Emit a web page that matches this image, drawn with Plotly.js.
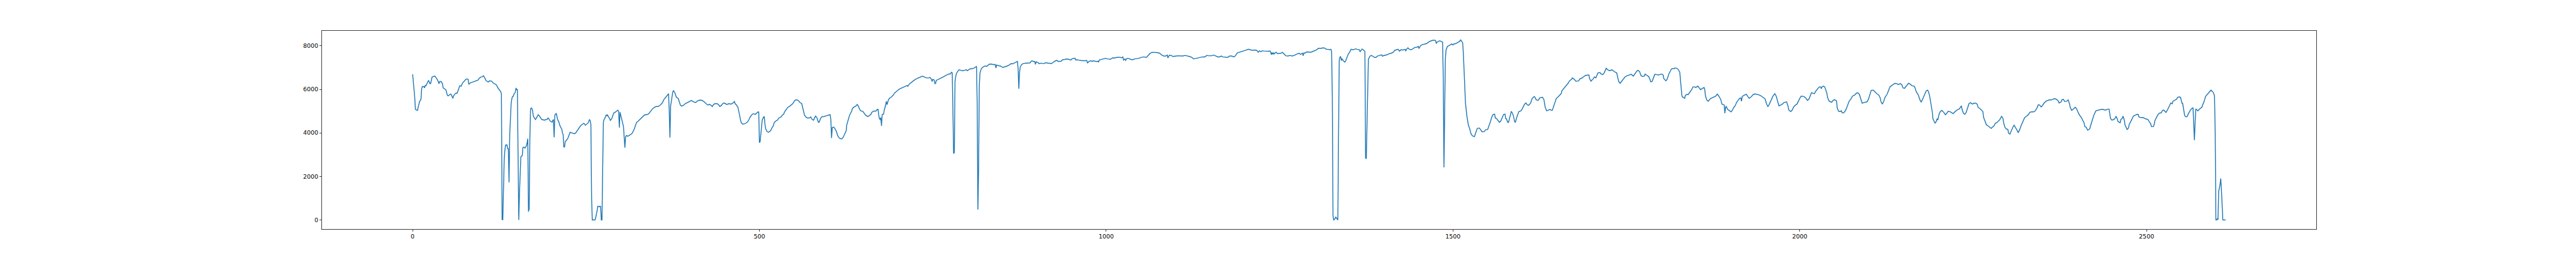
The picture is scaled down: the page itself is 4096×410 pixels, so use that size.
<!DOCTYPE html>
<html>
<head>
<meta charset="utf-8">
<script src="https://cdn.plot.ly/plotly-3.0.1.min.js"></script>
<style>html,body{margin:0;padding:0;background:#fff;}#chart{width:4096px;height:410px;}</style>
</head>
<body>
<div id="chart"></div>
<script>
// [index, value] vertices, by region of the x axis
const segA = [[0,6690],[2,6100],[3,5640],[4,5080],[7,5030],[8,5180],[10,5440],[12,5540],[13,6030],[14,6130],[16,6130],[17,6065],[18,6175],[19,6160],[22,6360],[23,6415],[25,6260],[26,6270],[28,6570],[30,6590],[32,6610],[34,6525],[36,6425],[38,6260],[39,6360],[41,6360],[43,6260],[44,6065],[46,6030],[48,5967],[50,5737],[51,5704],[53,5737],[55,5783],[56,5737],[58,5586],[59,5700],[62,5822],[64,5822],[66,6030],[68,6165],[70,6150],[72,6295],[74,6360],[76,6440],[78,6480],[80,6460],[81,6230],[83,6295],[86,6330],[89,6360],[91,6395],[94,6425],[96,6506],[98,6560],[100,6573],[102,6625],[104,6525],[106,6395],[109,6340],[111,6395],[114,6375],[116,6295],[119,6245],[121,6200],[123,6065],[125,5980],[127,5900],[128,5783],[129,15],[130,15],[131,1365],[132,2780],[133,3205],[134,3435],[136,3450],[137,3270],[138,3270],[139,1726],[140,3930],[141,4981],[142,5342],[143,5572],[144,5670],[145,5680],[146,5783],[148,5868],[149,6065],[150,5986],[151,5990],[152,3000],[153,0],[154,1200],[155,2300],[156,2900],[157,2930],[158,2950],[159,3337],[161,3340],[162,3300],[164,3403],[165,3535],[166,3732],[167,380],[168,510],[169,3700],[170,5100],[171,5146],[172,5120],[173,5000],[174,4770],[175,4720],[177,4612],[178,4660],[181,4836],[182,4800],[183,4770],[186,4619],[188,4600],[190,4586],[192,4612],[194,4619],[195,4685],[196,4670],[198,4553],[200,4507],[201,4490],[202,4570],[203,4612],[204,3797],[205,4816],[207,4902],[208,4751],[209,4619],[211,4487],[212,4356],[214,4224],[215,4180],[216,3995],[217,3930],[218,3350],[219,3350],[220,3600],[222,3666],[224,3765],[226,3929],[227,4027],[230,3995],[233,3962],[235,3995],[238,4139],[240,4224],[242,4323],[245,4402],[247,4442],[249,4350],[251,4400],[253,4455],[255,4619]];
const segB = [[256,4553],[257,4389],[258,1036],[259,0],[263,0],[264,115],[265,345],[266,430],[267,630],[269,600],[270,625],[271,620],[272,0],[273,0],[274,2350],[275,4487],[276,4619],[277,4660],[279,4816],[280,4790],[281,4840],[282,4751],[284,4660],[285,4566],[287,4650],[290,4915],[292,4950],[294,4994],[296,5047],[297,4990],[298,4244],[299,4948],[300,4796],[301,4717],[302,4550],[303,4389],[304,4290],[305,3797],[306,3323],[307,3810],[308,3876],[309,3876],[310,3843],[312,3876],[314,3929],[316,3960],[318,4073],[320,4205],[321,4323],[323,4487],[325,4534],[328,4619],[331,4717],[334,4816],[336,4836],[339,4849],[341,4902],[343,4994],[346,5113],[349,5178],[351,5211],[354,5211],[357,5277],[360,5376],[362,5520],[365,5638],[367,5737],[368,5770],[369,5803],[370,4980],[371,3784],[372,5244],[374,5704],[375,5868],[376,5947],[377,5900],[378,5849],[380,5652],[383,5573],[385,5376],[386,5277],[388,5231],[391,5277],[393,5342],[396,5389],[399,5441],[402,5494],[404,5441],[408,5395],[411,5474],[414,5507],[417,5494],[420,5441],[423,5342],[426,5277],[428,5309],[430,5277],[432,5211],[434,5309],[436,5342],[439,5342],[441,5296],[443,5211],[445,5257],[447,5342],[449,5376],[451,5342],[453,5309],[456,5342],[459,5323],[462,5376],[464,5441],[465,5342],[467,5277],[469,5178],[470,5047],[472,4718],[473,4553],[474,4454],[476,4402],[479,4421],[481,4460],[483,4507],[485,4619],[487,4751],[490,4862],[492,4882],[494,4850],[496,4915],[498,4967],[499,4960],[500,3550],[501,3600],[503,4191],[504,4586],[506,4731],[507,4740],[508,4389],[509,4191],[511,4060],[513,4027],[515,4073],[516,4093],[518,4224]];
const segC = [[520,4323],[521,4454],[523,4534],[526,4586],[528,4685],[531,4731],[533,4816],[535,4862],[536,4948],[538,5047],[541,5178],[543,5211],[546,5277],[548,5342],[551,5494],[553,5520],[556,5494],[558,5408],[561,5342],[563,5113],[565,4816],[567,4731],[569,4685],[572,4685],[574,4731],[576,4619],[578,4586],[580,4718],[581,4784],[583,4685],[585,4487],[586,4487],[588,4652],[590,4744],[593,4751],[596,4784],[599,4816],[602,4836],[603,4586],[604,3765],[605,4244],[607,4270],[609,4191],[611,4060],[613,3863],[615,3765],[617,3732],[619,3732],[621,3810],[623,3929],[625,4093],[626,4376],[628,4586],[630,4816],[633,4994],[634,5113],[636,5178],[639,5231],[641,5309],[643,5211],[644,5113],[646,5014],[649,4994],[651,4902],[653,4816],[656,4751],[658,4784],[661,4862],[662,4948],[665,5001],[668,5001],[670,5080],[671,5080],[672,4816],[673,4652],[674,4619],[675,4704],[676,4323],[677,4849],[679,4862],[680,5047],[682,5277],[683,5454],[684,5296],[686,5520],[688,5606],[690,5638],[693,5737],[695,5836],[698,5915],[701,6000],[704,6046],[707,6098],[710,6131],[713,6177],[714,6140],[716,6243],[719,6328],[722,6394],[726,6480],[730,6546],[735,6605],[738,6570],[741,6525],[744,6525],[746,6545],[748,6460],[749,6360],[750,6460],[752,6430],[753,6262],[754,6270],[755,6414],[757,6440],[760,6480],[763,6539],[766,6592],[768,6625],[771,6657],[773,6710],[775,6705],[776,6770],[777,6789],[778,6757],[779,4000],[780,3050],[781,3100],[782,6360],[783,6592],[784,6723],[786,6835],[788,6901],[790,6880],[793,6855],[796,6880],[798,6901],[800,6855],[803,6934],[807,6953],[810,6986],[812,7032],[813,7065],[814,5300],[815,477],[816,2350],[817,6164],[818,6756],[820,6953],[822,7019],[825,7071],[828,7065],[831,7150],[834,7163],[838,7137],[840,7150],[841,6980],[842,7117],[845,7100],[848,7065],[851,7006],[854,7032],[857,7071],[860,7117],[863,7183],[865,7170],[868,7229],[872,7282],[873,6953],[874,6032],[875,6756],[876,7019],[878,7137],[880,7183],[883,7203],[886,7203],[890,7216],[892,7295],[893,7315],[895,7282],[897,7282],[898,7150],[899,7269],[902,7230],[903,7183],[906,7203],[910,7183],[913,7229],[916,7203],[919,7203],[921,7183],[923,7229],[925,7282],[927,7315],[929,7328],[931,7282],[935,7295],[937,7361],[940,7374],[943,7394],[946,7381],[949,7348],[951,7413],[953,7427],[955,7433],[956,7348],[958,7361],[960,7348],[963,7328],[966,7315],[970,7315],[972,7328],[973,7203],[975,7282],[978,7315],[980,7282],[981,7315],[984,7282],[986,7282],[988,7295],[989,7250],[990,7348],[993,7381],[996,7400],[999,7427],[1002,7400],[1006,7381],[1009,7446],[1012,7440],[1015,7466],[1018,7466],[1020,7479],[1022,7446],[1024,7492],[1025,7348],[1027,7400],[1028,7335],[1030,7427],[1033,7413],[1035,7381],[1038,7361],[1041,7400],[1044,7413]];
const segD = [[1047,7427],[1050,7466],[1054,7492],[1058,7466],[1060,7532],[1063,7644],[1066,7703],[1070,7703],[1073,7690],[1077,7663],[1080,7578],[1083,7532],[1086,7532],[1088,7578],[1089,7446],[1091,7571],[1094,7558],[1096,7512],[1098,7512],[1101,7532],[1104,7545],[1107,7532],[1110,7532],[1114,7558],[1117,7545],[1120,7512],[1123,7479],[1126,7400],[1130,7427],[1134,7466],[1139,7492],[1142,7492],[1145,7558],[1148,7545],[1152,7545],[1155,7578],[1158,7532],[1161,7492],[1163,7492],[1166,7532],[1168,7492],[1171,7479],[1175,7466],[1178,7532],[1181,7532],[1184,7492],[1186,7532],[1189,7677],[1192,7703],[1195,7742],[1198,7775],[1201,7795],[1205,7841],[1208,7822],[1211,7795],[1214,7808],[1217,7795],[1219,7709],[1221,7775],[1223,7729],[1225,7775],[1228,7762],[1231,7749],[1234,7749],[1236,7762],[1237,7735],[1238,7598],[1239,7690],[1240,7611],[1241,7690],[1242,7624],[1245,7709],[1247,7644],[1250,7663],[1252,7663],[1254,7703],[1256,7644],[1259,7545],[1262,7532],[1265,7558],[1268,7532],[1271,7558],[1274,7611],[1278,7663],[1280,7611],[1283,7663],[1284,7545],[1285,7677],[1287,7663],[1288,7709],[1290,7722],[1293,7709],[1295,7709],[1298,7742],[1300,7762],[1303,7808],[1305,7861],[1306,7887]];
const segE = [[1310,7887],[1313,7907],[1316,7887],[1317,7841],[1320,7841],[1322,7822],[1324,7841],[1325,7742],[1326,5638],[1327,181],[1328,0],[1329,16],[1331,128],[1332,80],[1333,16],[1334,0],[1335,4000],[1336,7348],[1337,7479],[1338,7512],[1339,7328],[1340,7400],[1342,7315],[1344,7249],[1345,7282],[1347,7446],[1349,7624],[1351,7709],[1353,7841],[1356,7822],[1358,7841],[1360,7861],[1362,7841],[1365,7822],[1366,7729],[1368,7841],[1369,7855],[1371,7808],[1372,7755],[1373,7742],[1374,2844],[1375,2811],[1376,4323],[1377,6559],[1378,7381],[1380,7512],[1382,7558],[1384,7532],[1387,7466],[1389,7466],[1391,7532],[1394,7558],[1397,7591],[1398,7532],[1400,7558],[1403,7578],[1405,7591],[1407,7624],[1411,7663],[1414,7709],[1416,7795],[1418,7822],[1421,7841],[1423,7755],[1425,7822],[1428,7808],[1431,7841],[1432,7755],[1433,7841],[1435,7907],[1437,7841],[1440,7822],[1443,7887],[1445,7926],[1448,7939],[1450,7972],[1451,7874],[1453,8005],[1456,8058],[1459,8071],[1462,8104],[1464,8150],[1466,8202],[1469,8235],[1471,8255],[1474,8255],[1475,8235],[1476,8104],[1477,8170],[1479,8202],[1481,8235],[1483,8202],[1485,8170],[1486,6500],[1487,2416],[1488,4981],[1489,7413],[1490,7808],[1492,7972],[1494,8005],[1496,8058],[1498,8084],[1500,8040],[1501,8084],[1504,8104],[1506,8150],[1508,8170],[1510,8216],[1511,8281],[1512,8235],[1514,8137],[1515,7611],[1516,6756],[1517,5967],[1518,5375],[1520,4783],[1522,4389],[1524,4192],[1526,3962],[1528,3863],[1531,3830],[1533,4027],[1535,4205],[1538,4224],[1540,4126],[1542,4047],[1545,4060],[1547,4139],[1550,4159],[1552,4323],[1554,4520],[1556,4731],[1558,4849],[1560,4862],[1561,4685],[1563,4652],[1565,4553],[1567,4487],[1569,4553]];
const segF = [[1571,4718],[1573,4849],[1575,4862],[1576,4652],[1577,4652],[1579,4487],[1580,4480],[1582,4718],[1584,4981],[1585,4950],[1587,4796],[1589,4507],[1590,4490],[1592,4718],[1595,4981],[1598,5014],[1600,5113],[1603,5309],[1605,5376],[1607,5296],[1609,5264],[1612,5376],[1614,5573],[1617,5671],[1618,5650],[1620,5520],[1623,5494],[1625,5605],[1629,5638],[1631,5540],[1633,5178],[1635,5014],[1638,5060],[1640,5080],[1641,5047],[1643,5034],[1644,5113],[1647,5376],[1649,5586],[1651,5638],[1653,5704],[1656,5803],[1657,5934],[1660,6046],[1662,6111],[1664,6197],[1666,6282],[1668,6394],[1671,6460],[1672,6526],[1675,6460],[1677,6374],[1681,6387],[1683,6480],[1686,6520],[1688,6572],[1691,6638],[1694,6658],[1696,6658],[1697,6493],[1699,6374],[1702,6480],[1704,6572],[1706,6530],[1707,6612],[1709,6756],[1712,6770],[1713,6720],[1716,6677],[1718,6756],[1720,6901],[1721,6967],[1723,6901],[1726,6855],[1729,6901],[1732,6822],[1734,6789],[1736,6757],[1737,6592],[1739,6360],[1741,6282],[1744,6414],[1746,6493],[1748,6572],[1751,6625],[1754,6658],[1757,6690],[1760,6612],[1763,6743],[1765,6835],[1767,6875],[1769,6822],[1771,6638],[1773,6592],[1776,6612],[1777,6704],[1779,6658],[1782,6592],[1784,6460],[1785,6348],[1787,6360],[1789,6546],[1791,6690],[1794,6677],[1796,6658],[1799,6690],[1801,6704],[1803,6658],[1804,6493],[1807,6394],[1809,6480],[1811,6690],[1813,6835],[1815,6940],[1817,6953],[1819,6953],[1820,6986],[1823,6967],[1825,6901],[1827,6789],[1828,6427],[1829,6032],[1830,5718],[1831,5638],[1832,5638]];
const segG = [[1834,5586],[1835,5718],[1837,5770],[1839,5757],[1841,5849],[1844,5980],[1846,6112],[1849,6112],[1850,6085],[1853,6151],[1855,6065],[1857,5987],[1859,6032],[1862,6085],[1863,6000],[1864,5704],[1866,5507],[1868,5454],[1871,5572],[1873,5605],[1876,5638],[1879,5691],[1881,5783],[1883,5704],[1886,5540],[1888,5309],[1890,5296],[1891,5290],[1892,4902],[1893,5178],[1894,5211],[1896,5080],[1898,5034],[1901,4967],[1903,5047],[1905,5178],[1907,5257],[1909,5408],[1912,5540],[1914,5605],[1915,5605],[1916,5454],[1917,5671],[1920,5737],[1923,5770],[1925,5671],[1927,5586],[1930,5658],[1933,5770],[1936,5790],[1939,5770],[1942,5737],[1944,5704],[1947,5638],[1950,5560],[1952,5342],[1954,5211],[1955,5244],[1957,5408],[1959,5520],[1961,5671],[1962,5718],[1964,5803],[1966,5691],[1968,5474],[1970,5244],[1973,5290],[1975,5323],[1977,5389],[1980,5428],[1981,5428],[1983,5244],[1984,5060],[1987,4981],[1989,5047],[1991,5178],[1993,5257],[1996,5323],[1998,5474],[2000,5586],[2002,5691],[2004,5671],[2006,5671],[2009,5586],[2011,5494],[2013,5540],[2015,5704],[2017,5849],[2019,5822],[2021,5803],[2023,5915],[2026,6032],[2028,6112],[2030,6112],[2031,6032],[2032,6112],[2034,6151],[2036,6112],[2037,6000],[2039,5836],[2040,5638],[2042,5474],[2044,5428],[2046,5408],[2048,5494],[2050,5527],[2053,5474],[2054,5145],[2056,4994],[2058,4981],[2060,5014],[2061,4928],[2063,4915],[2065,4981],[2067,5099],[2069,5244],[2071,5441],[2074,5572],[2076,5691],[2079,5737],[2082,5836],[2084,5836],[2086,5770],[2088,5560],[2090,5362],[2092,5389],[2095,5408]];
const segH = [[2097,5428],[2099,5540],[2101,5770],[2103,5954],[2106,5967],[2109,5868],[2111,5803],[2114,5737],[2116,5605],[2117,5441],[2119,5323],[2121,5441],[2123,5638],[2126,5783],[2128,5967],[2130,6112],[2132,6164],[2135,6217],[2137,6276],[2140,6263],[2142,6217],[2145,6263],[2147,6217],[2149,6065],[2151,6046],[2153,6131],[2157,6282],[2159,6243],[2162,6164],[2165,6151],[2166,6085],[2168,5888],[2171,5737],[2173,5540],[2175,5408],[2177,5540],[2180,5737],[2182,5915],[2184,5967],[2185,5940],[2187,5737],[2189,5375],[2191,4981],[2192,4652],[2194,4487],[2195,4441],[2197,4534],[2198,4652],[2199,4590],[2201,4882],[2203,4994],[2205,5034],[2208,4928],[2210,4836],[2212,4902],[2214,4994],[2217,4970],[2219,4915],[2221,4882],[2223,4948],[2226,5034],[2228,5080],[2230,5100],[2233,5244],[2234,5080],[2236,4902],[2238,4849],[2240,4948],[2242,5145],[2244,5342],[2246,5389],[2249,5323],[2251,5362],[2254,5362],[2256,5309],[2257,5178],[2260,5113],[2262,5034],[2264,4981],[2265,4718],[2267,4534],[2269,4376],[2272,4310],[2274,4257],[2276,4205],[2278,4270],[2280,4323],[2282,4441],[2284,4468],[2286,4534],[2288,4586],[2290,4704],[2291,4770],[2293,4665],[2294,4454],[2296,4244],[2298,4178],[2300,4159],[2301,3995],[2303,3942],[2304,4027],[2307,4244],[2309,4356],[2311,4257],[2313,4139],[2315,4008],[2317,4139],[2319,4323],[2322,4534],[2324,4685],[2327,4770],[2329,4816],[2332,4948],[2334,4967],[2337,4967],[2339,4994],[2342,5145],[2344,5296],[2346,5277],[2348,5191],[2350,5257],[2352,5362],[2355,5454],[2357,5474]];
const segI = [[2360,5520],[2362,5507],[2363,5520],[2365,5560],[2367,5573],[2369,5560],[2371,5520],[2373,5454],[2374,5375],[2377,5428],[2378,5520],[2380,5540],[2382,5441],[2385,5454],[2387,5527],[2389,5323],[2390,5165],[2392,5034],[2394,5080],[2397,5178],[2399,5113],[2401,4967],[2403,4836],[2406,4704],[2408,4586],[2410,4454],[2411,4290],[2413,4257],[2415,4126],[2418,4178],[2420,4402],[2422,4619],[2424,4816],[2427,5014],[2429,5034],[2432,5047],[2435,5080],[2437,5080],[2440,5047],[2442,5060],[2444,5093],[2446,5093],[2447,4849],[2448,4665],[2450,4586],[2453,4619],[2455,4685],[2456,4770],[2458,4619],[2459,4520],[2461,4487],[2462,4454],[2463,4619],[2465,4665],[2466,4770],[2468,4586],[2469,4356],[2471,4224],[2472,4159],[2474,4224],[2475,4389],[2477,4507],[2479,4665],[2481,4770],[2484,4816],[2486,4849],[2488,4849],[2489,4731],[2492,4704],[2495,4704],[2499,4639],[2502,4619],[2504,4507],[2506,4422],[2507,4290],[2510,4290],[2511,4389],[2512,4553],[2515,4751],[2517,4862],[2519,4915],[2521,4915],[2523,5034],[2525,5047],[2527,4967],[2528,4941],[2530,5047],[2532,5165],[2534,5277],[2535,5375],[2537,5340],[2538,5454],[2541,5507],[2543,5540],[2545,5638],[2547,5655],[2549,5638],[2551,5362],[2552,5362],[2554,4981],[2555,4796],[2557,4731],[2559,4770],[2560,4862],[2562,4981],[2563,5034],[2565,5113],[2566,5126],[2567,5165],[2568,4450],[2569,3666],[2570,4450],[2571,5099],[2573,5047],[2574,5014],[2576,5080],[2578,5145],[2580,5191],[2581,5296],[2583,5441],[2585,5671],[2587,5737],[2589,5822],[2591,5901],[2593,5967],[2596,5868],[2598,5704],[2599,4000],[2600,0],[2601,0],[2602,49],[2603,10],[2604,1299],[2606,1627],[2607,1903],[2608,1364],[2609,707],[2610,0],[2614,0]];

const xTicks = [0, 500, 1000, 1500, 2000, 2500];
const yTicks = [0, 2000, 4000, 6000, 8000];

const all = [].concat(segA, segB, segC, segD, segE, segF, segG, segH, segI);
const xs = all.map(p => p[0]);
const ys = all.map(p => p[1]);

const S = 0.682;
const axisCommon = {
  showline: true, mirror: true, linecolor: '#000', linewidth: 0.8 * 1.389 * S,
  ticks: 'outside', ticklen: 3.5 * 1.389 * S, tickwidth: 0.8 * 1.389 * S, tickcolor: '#000',
  showgrid: false, zeroline: false,
  tickfont: {family: 'DejaVu Sans', size: 10 * 1.389 * S, color: '#000'}
};

Plotly.newPlot('chart', [{
  x: xs, y: ys, type: 'scatter', mode: 'lines',
  line: {color: '#1f77b4', width: 1.5 * 1.389 * S},
  hoverinfo: 'skip'
}], {
  width: 4096, height: 410,
  margin: {l: 511.5, r: 413.2, t: 49.1, b: 45.8, pad: 0},
  paper_bgcolor: '#fff', plot_bgcolor: '#fff',
  showlegend: false,
  xaxis: Object.assign({}, axisCommon, {range: [-130.7, 2744.7], tickmode: 'array', tickvals: xTicks, ticktext: xTicks.map(String)}),
  yaxis: Object.assign({}, axisCommon, {range: [-420, 8690], tickmode: 'array', tickvals: yTicks, ticktext: yTicks.map(String)})
}, {staticPlot: true, displayModeBar: false});
</script>
</body>
</html>
